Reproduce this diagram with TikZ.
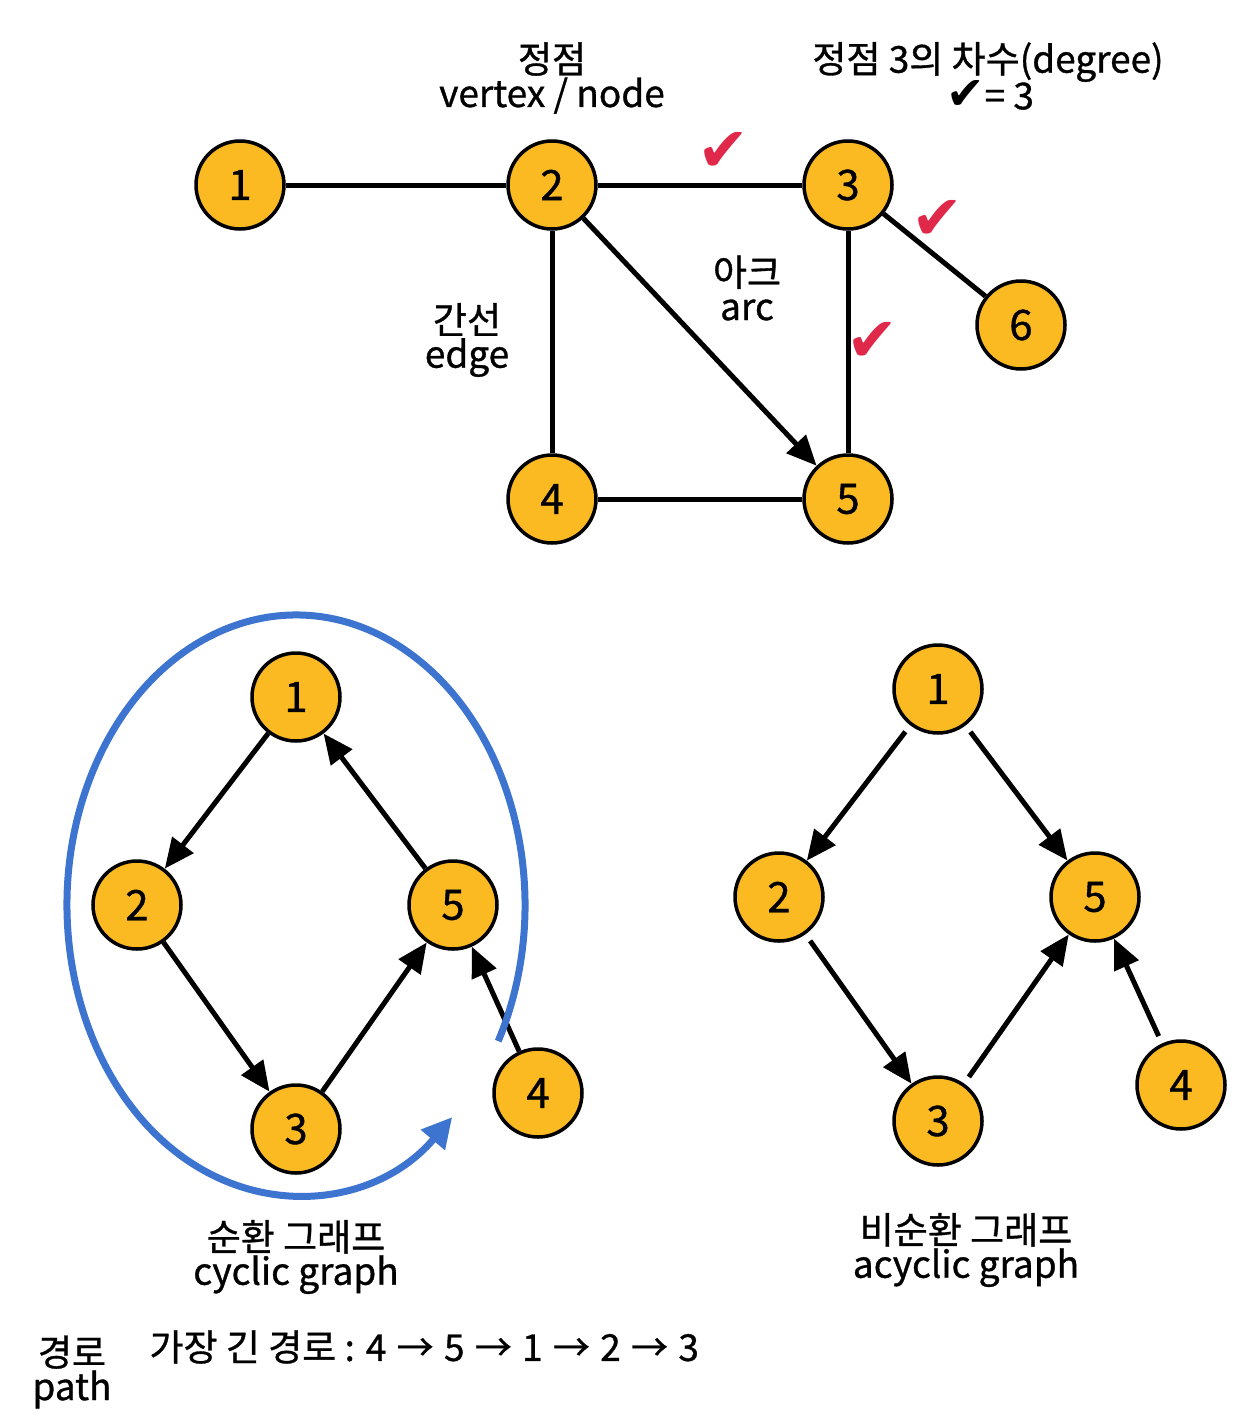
\documentclass[tikz,border=0pt]{standalone}
\usepackage{fontspec}
\setmainfont{Noto Sans CJK KR}[FakeBold=0.9]
\newfontfamily\symfont{DejaVu Sans}
\usetikzlibrary{arrows.meta}
\definecolor{gold}{HTML}{FBBA21}
\definecolor{chkred}{HTML}{E0284A}
\definecolor{loopblue}{HTML}{3D74D0}
\newcommand{\parr}{\kern2pt→\kern2pt}
\begin{document}
\begin{tikzpicture}[x=1pt,y=-1pt,
  vtx/.style={circle,draw,line width=3.5pt,fill=gold,minimum size=88pt,inner sep=0pt,font=\fontsize{42}{42}\selectfont},
  lbl/.style={align=center,font=\fontsize{37}{34}\selectfont},
  edge/.style={line width=5pt},
  arr/.style={line width=5pt,-{Triangle[length=30pt,width=26pt]}},
  chk/.style={text=chkred,font=\symfont\fontsize{62}{62}\selectfont}]
\useasboundingbox (0,0) rectangle (1258,1426);

% ---- top graph
\node[vtx] (a1) at (240,185) {1};
\node[vtx] (a2) at (552,185) {2};
\node[vtx] (a3) at (848,185) {3};
\node[vtx] (a6) at (1021,325) {6};
\node[vtx] (a4) at (552,499) {4};
\node[vtx] (a5) at (848,499) {5};
\draw[edge] (a1) -- (a2);
\draw[edge] (a2) -- (a3);
\draw[edge] (a3) -- (a6);
\draw[edge] (a3) -- (a5);
\draw[edge] (a2) -- (a4);
\draw[edge] (a4) -- (a5);
\draw[arr] (a2) -- (a5);

\node[lbl] (lv) at (552,78) {정점\\vertex / node};
\node[lbl] (ld) at (988,62) {정점 3의 차수(degree)};
\node[lbl] (ld2) at (990,95) {{\symfont\fontsize{46}{46}\selectfont ✔}= 3};
\node[lbl] (le) at (467,340) {간선\\edge};
\node[lbl] (lar) at (747,288) {아크\\arc};
\node[chk] (c1) at (723,152) {✔};
\node[chk] (c2) at (937,220) {✔};
\node[chk] (c3) at (872,342) {✔};

% ---- cyclic graph
\node[vtx] (b1) at (296,697) {1};
\node[vtx] (b2) at (137,905) {2};
\node[vtx] (b5) at (453,905) {5};
\node[vtx] (b3) at (296,1129) {3};
\node[vtx] (b4) at (538,1093) {4};
\draw[arr] (b1) -- (b2);
\draw[arr] (b2) -- (b3);
\draw[arr] (b3) -- (b5);
\draw[arr] (b5) -- (b1);
\draw[arr] (b4) -- (b5);
\coordinate (ec) at (296,905);
\draw[line width=7pt,loopblue,-{Triangle[length=30pt,width=30pt]}]
  (ec) ++(28:229 and 290) arc[start angle=28,end angle=-313,x radius=229,y radius=290];

\node[lbl] (lc) at (296,1257) {순환 그래프\\cyclic graph};

% ---- acyclic graph
\node[vtx] (d1) at (938,689) {1};
\node[vtx] (d2) at (779,897) {2};
\node[vtx] (d5) at (1095,897) {5};
\node[vtx] (d3) at (938,1121) {3};
\node[vtx] (d4) at (1181,1085) {4};
\draw[arr,shorten <=8pt] (d1) -- (d2);
\draw[arr,shorten <=8pt] (d1) -- (d5);
\draw[arr,shorten <=8pt] (d2) -- (d3);
\draw[arr,shorten <=8pt] (d3) -- (d5);
\draw[arr,shorten <=8pt] (d4) -- (d5);
\node[lbl] (la) at (966,1250) {비순환 그래프\\acyclic graph};

% ---- path
\node[lbl] (lp) at (72,1372) {경로\\path};
\node[lbl,anchor=west] (lpath) at (146,1347) {가장 긴 경로 : 4 \parr{} 5 \parr{} 1 \parr{} 2 \parr{} 3};
\end{tikzpicture}
\end{document}
